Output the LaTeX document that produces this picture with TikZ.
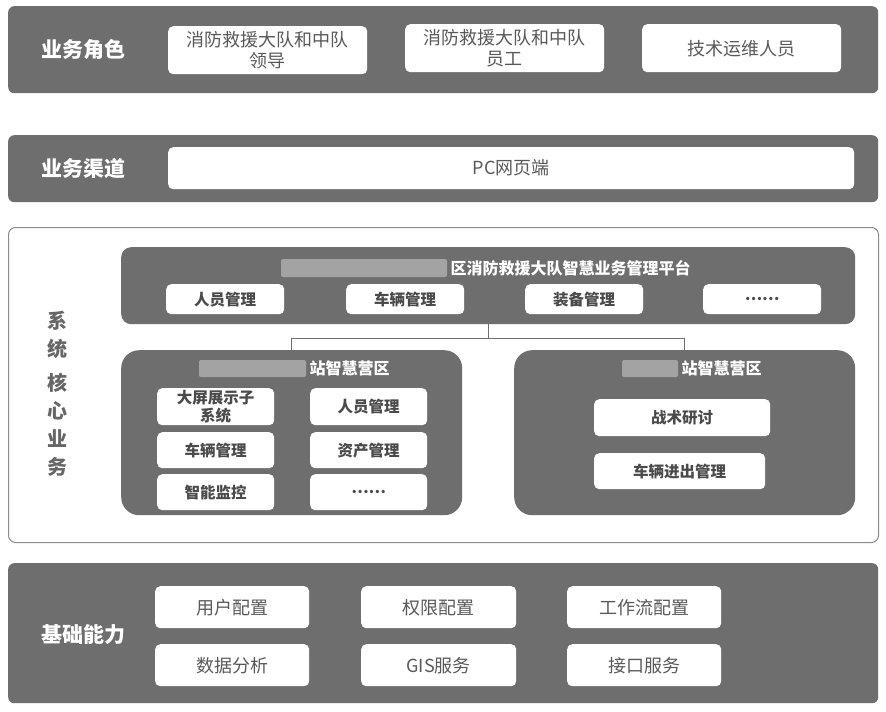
\documentclass[tikz,border=0pt]{standalone}
\usepackage{fontspec}
\setmainfont{Noto Sans CJK SC}
\usetikzlibrary{positioning}
\definecolor{PanelGray}{HTML}{6E6E6E}
\definecolor{CardText}{HTML}{595959}
\definecolor{TileText}{HTML}{4A4A4A}
\definecolor{FrameGray}{HTML}{8C8C8C}
\definecolor{LinkGray}{HTML}{6E6E6E}
\definecolor{BlurGray}{HTML}{A3A3A3}
\definecolor{SideText}{HTML}{666666}

\begin{document}
\begin{tikzpicture}[x=1pt,y=-1pt,
  panel/.style={fill=PanelGray,rounded corners=6pt,anchor=north west,inner sep=0pt},
  camp/.style={panel,rounded corners=18pt},
  card/.style={fill=white,rounded corners=5pt,anchor=north west,inner sep=0pt,
               text=CardText,align=center,font=\fontsize{18}{21}\selectfont},
  tile/.style={card,text=TileText,font=\fontsize{15.5}{18}\selectfont\bfseries},
  rowlabel/.style={text=white,font=\fontsize{21}{24}\selectfont\bfseries},
  heading/.style={text=white,font=\fontsize{16}{18}\selectfont\bfseries},
  blur/.style={fill=BlurGray,rounded corners=2pt},
  link/.style={draw=LinkGray,line width=0.9pt}
]
\useasboundingbox (0,0) rectangle (886,712);

% business roles
\node[panel,minimum width=870pt,minimum height=87pt] (roles) at (8,6) {};
\node[rowlabel] (rolesLbl) at (83,50) {业务角色};
\node[card,minimum width=199pt,minimum height=48pt] (lead) at (168,26) {消防救援大队和中队\\领导};
\node[card,minimum width=199pt,minimum height=48pt] (staff) at (405,24) {消防救援大队和中队\\员工};
\node[card,minimum width=199pt,minimum height=48pt] (ops) at (642,24) {技术运维人员};

% business channel
\node[panel,minimum width=870pt,minimum height=67pt] (chan) at (8,135) {};
\node[rowlabel] (chanLbl) at (83,169) {业务渠道};
\node[card,minimum width=686pt,minimum height=42pt] (web) at (168,147) {PC网页端};

% core business
\node[draw=FrameGray,line width=1pt,fill=white,rounded corners=7pt,anchor=north west,inner sep=0pt,
      minimum width=870pt,minimum height=315pt] (core) at (8,227) {};
\node[text=SideText,align=center,font=\fontsize{20}{28}\selectfont\bfseries] (coreLbl) at (57,394)
  {系\\统\\[6pt]核\\心\\业\\务};

\node[panel,rounded corners=10pt,minimum width=734pt,minimum height=77pt] (plat) at (121,247) {};
\fill[blur] (281,259) rectangle (447,277);
\node[heading,anchor=west] (platLbl) at (447,268) {区消防救援大队智慧业务管理平台};
\node[tile,minimum width=118pt,minimum height=30pt] (pStaff) at (166,284) {人员管理};
\node[tile,minimum width=118pt,minimum height=30pt] (pCar) at (346,284) {车辆管理};
\node[tile,minimum width=118pt,minimum height=30pt] (pGear) at (525,284) {装备管理};
\node[tile,minimum width=118pt,minimum height=30pt] (pMore) at (703,284) {……};

\node[camp,minimum width=341pt,minimum height=165pt] (campA) at (121,350) {};
\fill[blur] (199,360) rectangle (306,377);
\node[heading,anchor=west] (campALbl) at (306,368) {站智慧营区};
\node[tile,minimum width=117pt,minimum height=37pt] (aScreen) at (157,388) {大屏展示子\\系统};
\node[tile,minimum width=117pt,minimum height=37pt] (aStaff) at (310,388) {人员管理};
\node[tile,minimum width=117pt,minimum height=36pt] (aCar) at (157,432) {车辆管理};
\node[tile,minimum width=117pt,minimum height=36pt] (aAsset) at (310,432) {资产管理};
\node[tile,minimum width=117pt,minimum height=36pt] (aWatch) at (157,474) {智能监控};
\node[tile,minimum width=117pt,minimum height=36pt] (aMore) at (310,474) {……};

\node[camp,minimum width=341pt,minimum height=165pt] (campB) at (514,350) {};
\fill[blur] (622,360) rectangle (678,377);
\node[heading,anchor=west] (campBLbl) at (678,368) {站智慧营区};
\node[tile,minimum width=176pt,minimum height=37pt] (bTactic) at (594,399) {战术研讨};
\node[tile,minimum width=171pt,minimum height=36pt] (bGate) at (594,453) {车辆进出管理};

\draw[link] (plat.south) -- ++(0,14) coordinate (fork);
\draw[link] (fork) -| (campA.north);
\draw[link] (fork) -| (campB.north);

% base capabilities
\node[panel,minimum width=870pt,minimum height=140pt] (base) at (8,563) {};
\node[rowlabel] (baseLbl) at (83,635) {基础能力};
\node[card,minimum width=154pt,minimum height=42pt] (user) at (155,586) {用户配置};
\node[card,minimum width=155pt,minimum height=42pt] (perm) at (361,586) {权限配置};
\node[card,minimum width=154pt,minimum height=42pt] (flow) at (567,586) {工作流配置};
\node[card,minimum width=154pt,minimum height=42pt] (data) at (155,644) {数据分析};
\node[card,minimum width=155pt,minimum height=42pt] (gis) at (361,644) {GIS服务};
\node[card,minimum width=154pt,minimum height=42pt] (api) at (567,644) {接口服务};
\end{tikzpicture}
\end{document}
